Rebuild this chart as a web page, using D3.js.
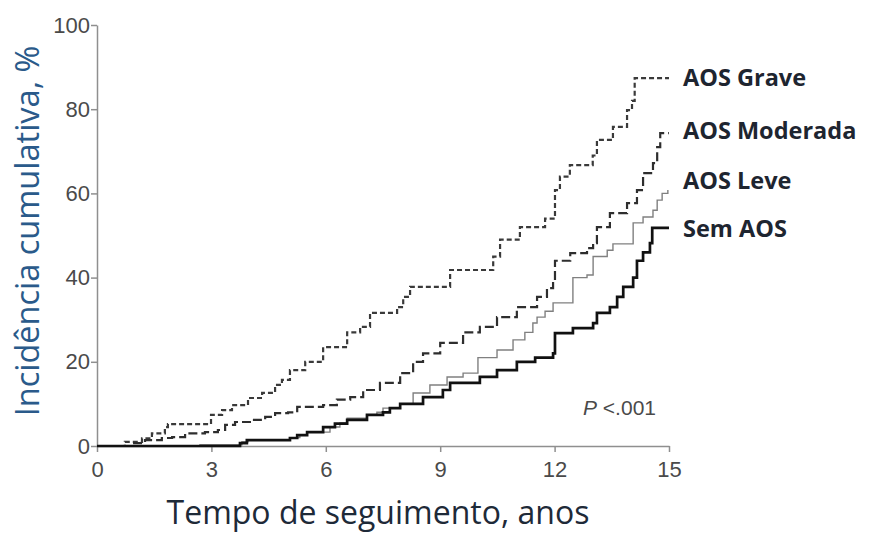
<!DOCTYPE html>
<html>
<head>
  <meta charset="utf-8" />
  <title>Incidência cumulativa por AOS</title>
  <script type="text/javascript" src="https://cdn.jsdelivr.net/npm/d3@7"></script>
  <style>
    body{
      margin: 0;
      background: white;
    }
  </style>
</head>
<body>
  <script type="text/javascript">
    // - - - - - DATA - - - - - //
    //step times (years) and cumulative incidence (%)
    var graveT = [0, 0.73, 1.18, 1.44, 1.78, 1.86, 2.99, 3.28, 3.54, 3.96, 4.33, 4.67, 4.85, 5.06, 5.46, 5.93, 6.56, 6.9, 7.16, 7.87, 8.03, 8.21, 9.26, 10.39, 10.57, 11.09, 11.75, 12.01, 12.14, 12.4, 13.0, 13.11, 13.53, 13.9, 14.03, 14.1, 15];
    var graveV = [0, 1.0, 1.8, 3.0, 4.5, 5.2, 7.4, 8.5, 9.7, 11.4, 12.6, 14.5, 15.7, 18, 20, 23.5, 27, 28.3, 31.6, 33, 35.4, 37.8, 41.8, 45, 49, 52, 54, 60.8, 64, 66.7, 69, 72.7, 75.8, 79.8, 82, 87.4, 87.4];

    var moderadaT = [0, 0.92, 1.26, 1.7, 1.97, 2.31, 2.83, 3.17, 3.36, 3.62, 4.07, 4.41, 4.67, 5.01, 5.25, 5.93, 6.29, 6.64, 6.98, 7.42, 7.95, 8.29, 8.55, 9.0, 9.6, 10.04, 10.49, 11.01, 11.54, 11.8, 11.96, 12.01, 12.41, 12.85, 13.01, 13.11, 13.45, 13.9, 14.16, 14.32, 14.58, 14.69, 14.77, 15];
    var moderadaV = [0, 0.7, 1.4, 1.9, 2.1, 3.0, 3.3, 3.8, 5.0, 5.7, 6.2, 6.9, 7.8, 8.0, 9.3, 9.7, 11, 11.6, 13.3, 15, 17.3, 20, 22, 24.5, 27, 28.3, 30.6, 33, 35.4, 37.5, 39.4, 44, 45.8, 47, 48.2, 52, 55.3, 57.7, 60.8, 64.8, 67.2, 71, 74.3, 74.3];

    var leveT = [0, 2.7, 3.8, 3.96, 5.06, 5.32, 5.51, 6.11, 6.37, 6.56, 7.08, 7.34, 7.5, 7.95, 8.29, 8.73, 9.18, 9.6, 9.99, 10.49, 10.91, 11.22, 11.43, 11.54, 11.75, 11.96, 12.48, 12.85, 13.01, 13.38, 13.53, 14.06, 14.32, 14.58, 14.69, 14.82, 14.97];
    var leveV = [0, 0.3, 1.0, 1.4, 2.0, 2.6, 3.3, 4.5, 5.5, 6.6, 7.4, 8.0, 9.0, 10, 12.6, 14.5, 16.4, 17.3, 21, 22.8, 25.2, 27, 29.2, 30.6, 32, 34, 40, 40.6, 45, 46.5, 48, 53, 54.4, 56, 58.4, 60, 60.8];

    var semT = [0, 3.75, 3.93, 5.06, 5.25, 5.51, 5.93, 6.24, 6.56, 7.08, 7.5, 7.68, 7.95, 8.55, 9.07, 9.26, 10.04, 10.49, 11.01, 11.49, 11.96, 12.01, 12.48, 13.01, 13.11, 13.45, 13.64, 13.8, 14.06, 14.16, 14.32, 14.5, 14.56, 15];
    var semV = [0, 0.7, 1.4, 1.9, 2.6, 3.3, 4.5, 5.3, 6.2, 7.4, 8.0, 9.0, 10, 11.6, 13.3, 15, 16.4, 18, 20, 21, 22, 26.8, 28, 29.2, 31.6, 33, 35.4, 37.8, 40, 44, 46, 48.2, 51.8, 51.8];

    var seriesNames = ["AOS Grave", "AOS Moderada", "AOS Leve", "Sem AOS"];
    var xTicks = [0, 3, 6, 9, 12, 15];
    var yTicks = [0, 20, 40, 60, 80, 100];

    // - - - - - CANVAS - - - - - //
    var w = 878;
    var h = 534;

    var svg = d3.select("body")
      .append("svg")
      .attr("width", w)
      .attr("height", h);

    // - - - - - SCALES - - - - - //
    var xScale = d3.scaleLinear()
      .domain([0, 15])
      .range([97, 669]);
    var yScale = d3.scaleLinear()
      .domain([0, 100])
      .range([446, 25]);

    // - - - - - AXES - - - - - //
    svg.append("g")
      .attr("transform", "translate(0," + yScale(0) + ")")
      .call(d3.axisBottom(xScale).tickValues(xTicks).tickSize(6).tickSizeOuter(0).tickPadding(9));
    svg.append("g")
      .attr("transform", "translate(" + xScale(0) + ",0)")
      .call(d3.axisLeft(yScale).tickValues(yTicks).tickSize(6).tickSizeOuter(0).tickPadding(1));

    svg.selectAll(".domain, .tick line")
      .attr("stroke", "#8f8f8f")
      .attr("stroke-width", 1.5);
    svg.selectAll(".tick text")
      .attr("font-family", "'Liberation Sans', Arial, sans-serif")
      .attr("font-size", "22px")
      .attr("fill", "#4a4a4a");

    //axis titles
    svg.append("text")
      .text("Tempo de seguimento, anos")
      .attr("x", 378)
      .attr("y", 524)
      .attr("text-anchor", "middle")
      .attr("font-family", "'Open Sans', sans-serif")
      .attr("font-size", "32px")
      .attr("fill", "#1e2a38");
    svg.append("text")
      .text("Incidência cumulativa, %")
      .attr("transform", "translate(39,231) rotate(-90)")
      .attr("text-anchor", "middle")
      .attr("font-family", "'Open Sans', sans-serif")
      .attr("font-size", "32.5px")
      .attr("fill", "#2a5a8a");

    // - - - - - CURVES - - - - - //
    var line = d3.line()
      .x(function(d){ return xScale(d[0]); })
      .y(function(d){ return yScale(d[1]); })
      .curve(d3.curveStepAfter);

    var zipSeries = function(t, v){
      return t.map(function(d, i){ return [d, v[i]]; });
    };

    var curves = [
      { pts: zipSeries(graveT, graveV), stroke: "#3a3a3a", width: 2.2, dash: "5,3", dy: 8 },
      { pts: zipSeries(moderadaT, moderadaV), stroke: "#2e2e2e", width: 2.2, dash: "9,4", dy: 6 },
      { pts: zipSeries(leveT, leveV), stroke: "#808080", width: 1.4, dash: null, dy: -1 },
      { pts: zipSeries(semT, semV), stroke: "#111", width: 2.7, dash: null, dy: 9 }
    ];

    svg.selectAll("path.curve")
      .data(curves)
      .enter()
      .append("path")
      .attr("class", "curve")
      .attr("d", function(d){ return line(d.pts); })
      .attr("fill", "none")
      .attr("stroke", function(d){ return d.stroke; })
      .attr("stroke-width", function(d){ return d.width; })
      .attr("stroke-dasharray", function(d){ return d.dash; });

    //series labels next to curve ends
    svg.selectAll("text.label")
      .data(curves)
      .enter()
      .append("text")
      .attr("class", "label")
      .text(function(d, i){ return seriesNames[i]; })
      .attr("x", 683)
      .attr("y", function(d){
        var last = d.pts[d.pts.length - 1][1];
        return yScale(last) + d.dy;
      })
      .attr("font-family", "'Open Sans', sans-serif")
      .attr("font-weight", 700)
      .attr("font-size", "23.5px")
      .attr("fill", "#1e2530");

    //p value
    var pLabel = svg.append("text")
      .attr("x", 656)
      .attr("y", 415)
      .attr("text-anchor", "end")
      .attr("font-family", "'Liberation Sans', Arial, sans-serif")
      .attr("font-size", "21px")
      .attr("fill", "#4a4a4a");
    pLabel.append("tspan").attr("font-style", "italic").text("P");
    pLabel.append("tspan").text(" <.001");
  </script>
</body>
</html>
